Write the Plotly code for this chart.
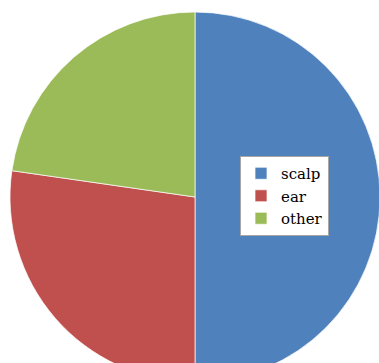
import plotly.graph_objects as go

labels = ["scalp", "ear", "other"]
values = [22, 12, 10]
colors = ["#4F81BD", "#C0504D", "#9BBB59"]

W, H = 390, 400
fig = go.Figure(go.Pie(
    labels=labels, values=values, sort=False, direction="clockwise", rotation=0,
    marker=dict(colors=colors, line=dict(color="white", width=0.7)),
    textinfo="none", hoverinfo="label+percent",
    domain=dict(x=[10 / W, 380 / W], y=[(H - 382) / H, (H - 12) / H]),
))
fig.update_layout(
    width=W, height=H, autosize=False,
    margin=dict(l=0, r=0, t=0, b=0),
    paper_bgcolor="white",
    font=dict(family="DejaVu Serif, Liberation Serif, serif", color="black"),
    legend=dict(
        x=240 / W, y=(H - 156) / H, xanchor="left", yanchor="top",
        bgcolor="white", bordercolor="#A6A6A6", borderwidth=1,
        font=dict(size=15, family="DejaVu Serif, Liberation Serif, serif", color="black"),
        tracegroupgap=0, itemwidth=30,
    ),
)
fig.write_html("out.html", config={"displayModeBar": False},
               post_script="document.body.style.margin='0';document.body.style.overflow='hidden';")
